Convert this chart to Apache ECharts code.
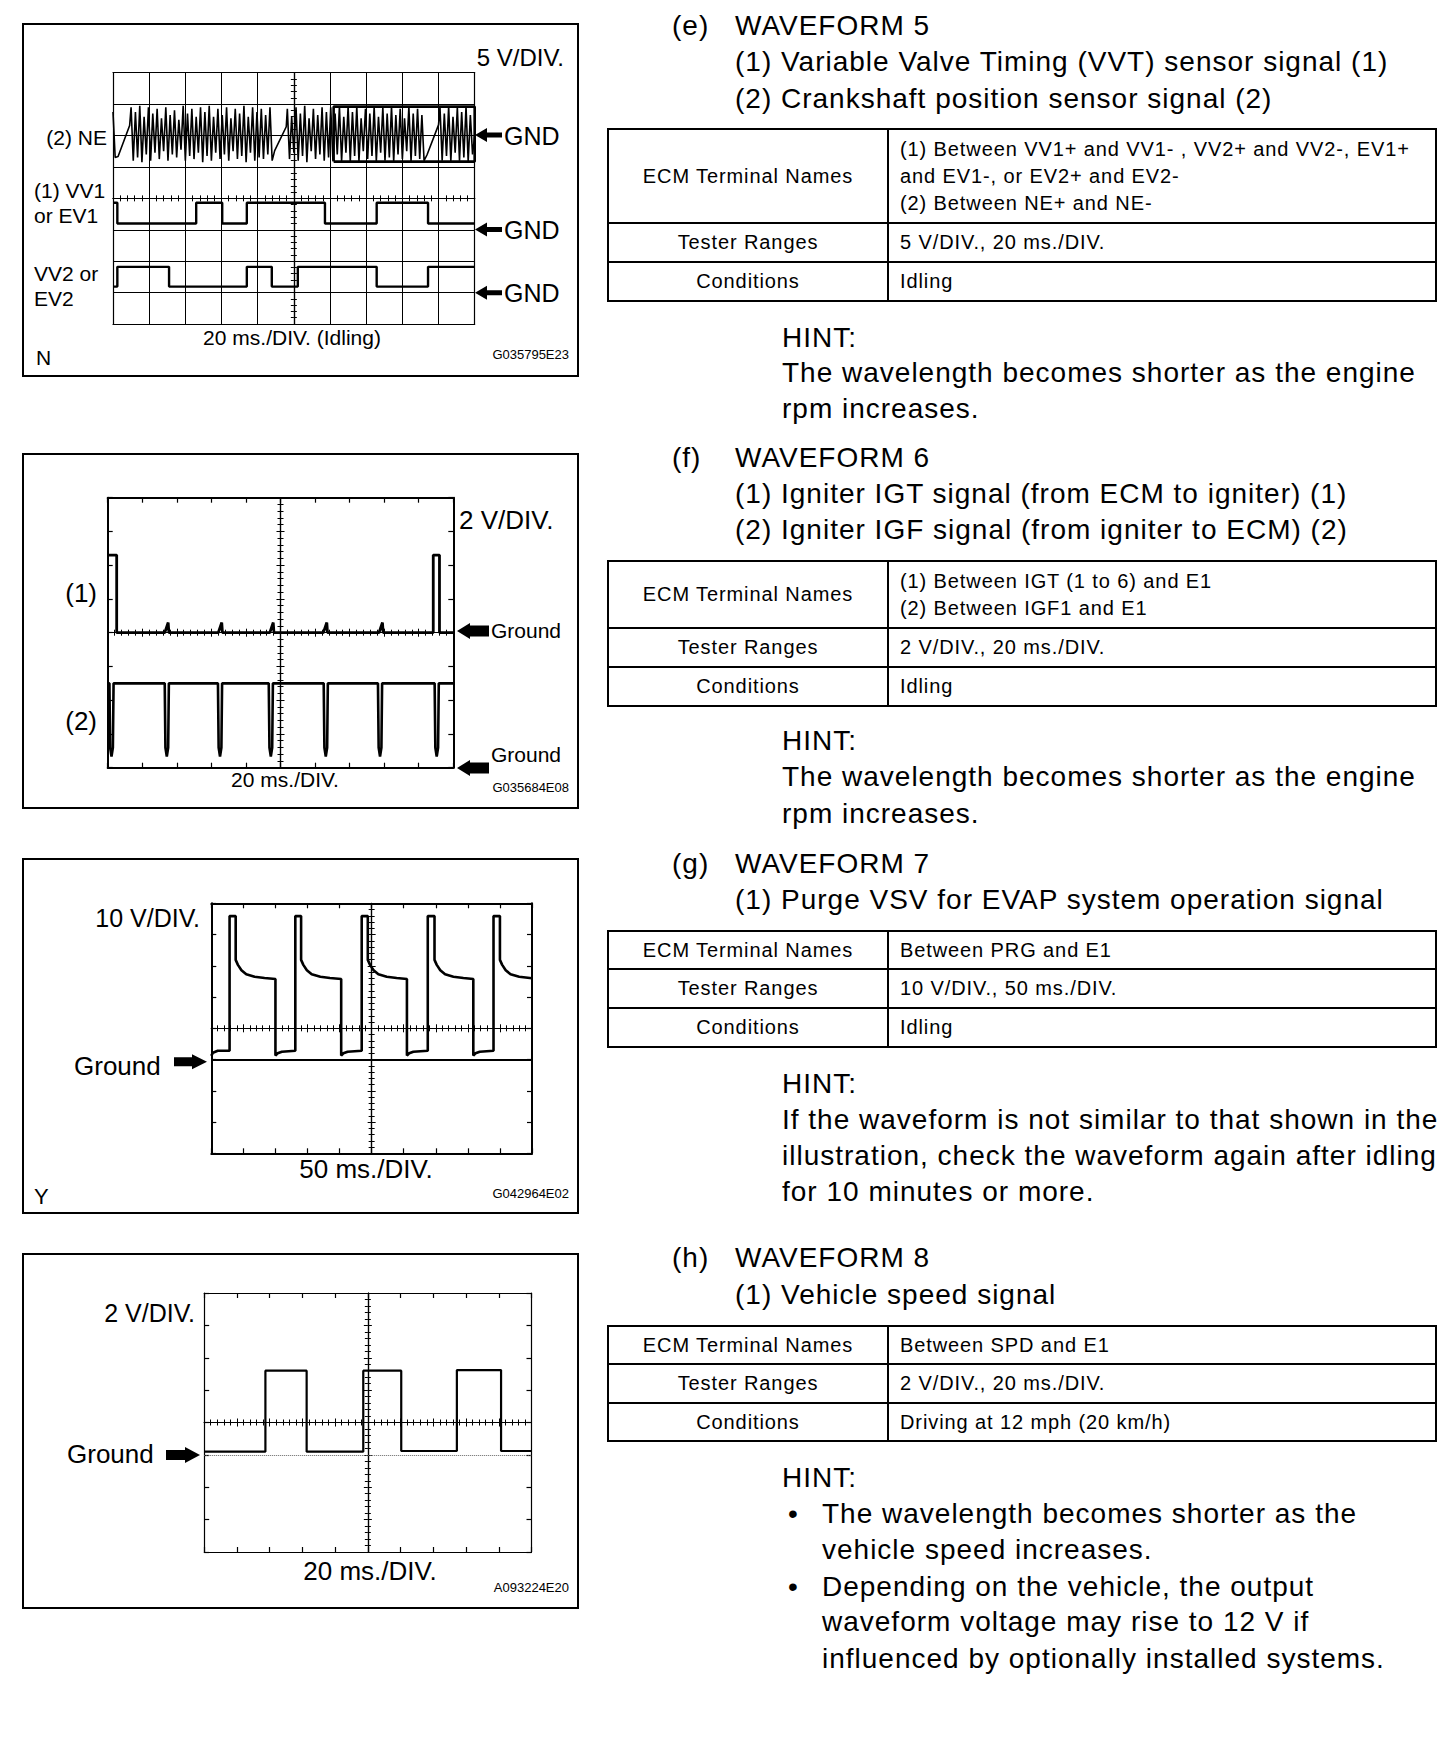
<!DOCTYPE html>
<html>
<head>
<meta charset="utf-8">
<title>Waveforms 5 - 8</title>
<script src="https://cdn.jsdelivr.net/npm/echarts@6/dist/echarts.min.js"></script>
<style>
  html, body { margin: 0; padding: 0; background: #fff; }
  #page { position: relative; width: 1456px; height: 1746px; overflow: hidden;
          font-family: 'Liberation Sans', Arial, sans-serif; color: #000; }
  #scopes { position: absolute; left: 0; top: 0; width: 1456px; height: 1746px; }
  .t { position: absolute; white-space: nowrap; font-size: 28px; letter-spacing: 1px; line-height: 36px; }
  table.spec { position: absolute; left: 607px; width: 830px; border-collapse: collapse;
               font-size: 20px; letter-spacing: 0.9px; }
  table.spec td { border: 2px solid #000; padding: 0 0 0 11px; line-height: 27px; }
  table.spec td.k { width: 278px; text-align: center; padding: 0; }
</style>
</head>
<body>
<div id="page">
  <div id="scopes"></div>

  <!-- (e) -->
  <div class="t" style="left:672px;top:8px">(e)</div>
  <div class="t" style="left:735px;top:8px">WAVEFORM 5</div>
  <div class="t" style="left:735px;top:44px">(1) Variable Valve Timing (VVT) sensor signal (1)</div>
  <div class="t" style="left:735px;top:81px">(2) Crankshaft position sensor signal (2)</div>
  <table class="spec" style="top:128px">
    <tr style="height:94px"><td class="k">ECM Terminal Names</td><td>(1) Between VV1+ and VV1- , VV2+ and VV2-, EV1+<br>and EV1-, or EV2+ and EV2-<br>(2) Between NE+ and NE-</td></tr>
    <tr style="height:39px"><td class="k">Tester Ranges</td><td>5 V/DIV., 20 ms./DIV.</td></tr>
    <tr style="height:39px"><td class="k">Conditions</td><td>Idling</td></tr>
  </table>
  <div class="t" style="left:782px;top:320px">HINT:</div>
  <div class="t" style="left:782px;top:355px">The wavelength becomes shorter as the engine</div>
  <div class="t" style="left:782px;top:391px">rpm increases.</div>

  <!-- (f) -->
  <div class="t" style="left:672px;top:440px">(f)</div>
  <div class="t" style="left:735px;top:440px">WAVEFORM 6</div>
  <div class="t" style="left:735px;top:476px">(1) Igniter IGT signal (from ECM to igniter) (1)</div>
  <div class="t" style="left:735px;top:512px">(2) Igniter IGF signal (from igniter to ECM) (2)</div>
  <table class="spec" style="top:560px">
    <tr style="height:67px"><td class="k">ECM Terminal Names</td><td>(1) Between IGT (1 to 6) and E1<br>(2) Between IGF1 and E1</td></tr>
    <tr style="height:39px"><td class="k">Tester Ranges</td><td>2 V/DIV., 20 ms./DIV.</td></tr>
    <tr style="height:39px"><td class="k">Conditions</td><td>Idling</td></tr>
  </table>
  <div class="t" style="left:782px;top:723px">HINT:</div>
  <div class="t" style="left:782px;top:759px">The wavelength becomes shorter as the engine</div>
  <div class="t" style="left:782px;top:796px">rpm increases.</div>

  <!-- (g) -->
  <div class="t" style="left:672px;top:846px">(g)</div>
  <div class="t" style="left:735px;top:846px">WAVEFORM 7</div>
  <div class="t" style="left:735px;top:882px">(1) Purge VSV for EVAP system operation signal</div>
  <table class="spec" style="top:930px">
    <tr style="height:38px"><td class="k">ECM Terminal Names</td><td>Between PRG and E1</td></tr>
    <tr style="height:39px"><td class="k">Tester Ranges</td><td>10 V/DIV., 50 ms./DIV.</td></tr>
    <tr style="height:39px"><td class="k">Conditions</td><td>Idling</td></tr>
  </table>
  <div class="t" style="left:782px;top:1066px">HINT:</div>
  <div class="t" style="left:782px;top:1102px">If the waveform is not similar to that shown in the</div>
  <div class="t" style="left:782px;top:1138px">illustration, check the waveform again after idling</div>
  <div class="t" style="left:782px;top:1174px">for 10 minutes or more.</div>

  <!-- (h) -->
  <div class="t" style="left:672px;top:1240px">(h)</div>
  <div class="t" style="left:735px;top:1240px">WAVEFORM 8</div>
  <div class="t" style="left:735px;top:1277px">(1) Vehicle speed signal</div>
  <table class="spec" style="top:1325px">
    <tr style="height:38px"><td class="k">ECM Terminal Names</td><td>Between SPD and E1</td></tr>
    <tr style="height:39px"><td class="k">Tester Ranges</td><td>2 V/DIV., 20 ms./DIV.</td></tr>
    <tr style="height:38px"><td class="k">Conditions</td><td>Driving at 12 mph (20 km/h)</td></tr>
  </table>
  <div class="t" style="left:782px;top:1460px">HINT:</div>
  <div class="t" style="left:788px;top:1496px">•</div>
  <div class="t" style="left:822px;top:1496px">The wavelength becomes shorter as the</div>
  <div class="t" style="left:822px;top:1532px">vehicle speed increases.</div>
  <div class="t" style="left:788px;top:1569px">•</div>
  <div class="t" style="left:822px;top:1569px">Depending on the vehicle, the output</div>
  <div class="t" style="left:822px;top:1604px">waveform voltage may rise to 12 V if</div>
  <div class="t" style="left:822px;top:1641px">influenced by optionally installed systems.</div>
</div>

<script>
// all traces are in scope divisions: x = 0..10 from the left edge, y = 0..8 from the bottom edge

// waveform 5: crankshaft (NE) teeth with the missing-tooth ramps
const neTrace = [
  [0.00, 6.75], [0.06, 5.30], [0.14, 5.33], [0.46, 6.32],
  [0.50, 6.90], [0.56, 5.20], [0.62, 6.75], [0.68, 5.30], [0.74, 6.95], [0.80, 5.15],
  [0.86, 6.60], [0.92, 5.40], [0.98, 6.90], [1.04, 5.20], [1.10, 6.70], [1.16, 5.45],
  [1.22, 6.85], [1.28, 5.25], [1.34, 6.55], [1.40, 5.50], [1.46, 6.90], [1.52, 5.20],
  [1.58, 6.65], [1.64, 5.40], [1.70, 6.80], [1.76, 5.30], [1.82, 6.50], [1.88, 5.55],
  [1.94, 6.95], [2.00, 5.20], [2.06, 6.70], [2.12, 5.35], [2.18, 6.85], [2.24, 5.25],
  [2.30, 6.60], [2.36, 5.45], [2.42, 6.90], [2.48, 5.15], [2.54, 6.75], [2.60, 5.35],
  [2.66, 6.95], [2.72, 5.20], [2.78, 6.60], [2.84, 5.45], [2.90, 6.85], [2.96, 5.25],
  [3.02, 6.65], [3.08, 5.40], [3.14, 6.90], [3.20, 5.20], [3.26, 6.55], [3.32, 5.50],
  [3.38, 6.85], [3.44, 5.25], [3.50, 6.70], [3.56, 5.35], [3.62, 6.95], [3.68, 5.15],
  [3.74, 6.60], [3.80, 5.45], [3.86, 6.90], [3.92, 5.20], [3.98, 6.75], [4.04, 5.30],
  [4.10, 6.85], [4.16, 5.25], [4.22, 6.65], [4.28, 5.40], [4.34, 6.90], [4.40, 5.20],
  [4.47, 5.52], [4.79, 6.28],
  [4.82, 6.85], [4.88, 5.25], [4.94, 6.60], [5.00, 5.45], [5.06, 6.90], [5.12, 5.20],
  [5.18, 6.70], [5.24, 5.35], [5.30, 6.95], [5.36, 5.15], [5.42, 6.55], [5.48, 5.50],
  [5.54, 6.85], [5.60, 5.25], [5.66, 6.65], [5.72, 5.40], [5.78, 6.90], [5.84, 5.20],
  [5.90, 6.75], [5.96, 5.30], [6.02, 6.90], [6.08, 5.20], [6.14, 6.70], [6.20, 5.40],
  [6.26, 6.92], [6.32, 5.18], [6.38, 6.60], [6.44, 5.45], [6.50, 6.92], [6.56, 5.18],
  [6.62, 6.75], [6.68, 5.35], [6.74, 6.92], [6.80, 5.18], [6.86, 6.55], [6.92, 5.50],
  [6.98, 6.85], [7.04, 5.25], [7.10, 6.70], [7.16, 5.35], [7.22, 6.92], [7.28, 5.18],
  [7.34, 6.60], [7.40, 5.45], [7.46, 6.90], [7.52, 5.20], [7.58, 6.70], [7.64, 5.30],
  [7.70, 6.92], [7.76, 5.18], [7.82, 6.65], [7.88, 5.40], [7.94, 6.85], [8.00, 5.25],
  [8.06, 6.55], [8.12, 5.50], [8.18, 6.92], [8.24, 5.18], [8.30, 6.70], [8.36, 5.35],
  [8.42, 6.85], [8.48, 5.25], [8.54, 6.65], [8.60, 5.20],
  [8.68, 5.38], [9.00, 6.34],
  [9.04, 6.90], [9.10, 5.20], [9.16, 6.70], [9.22, 5.35], [9.28, 6.92], [9.34, 5.18],
  [9.40, 6.60], [9.46, 5.45], [9.52, 6.90], [9.58, 5.20], [9.64, 6.75], [9.70, 5.30],
  [9.76, 6.92], [9.82, 5.18], [9.88, 6.65], [9.94, 5.40], [10.0, 6.00]
];
const neBox = [[6.10, 5.17], [6.10, 6.92], [10.0, 6.92], [10.0, 5.17], [6.10, 5.17]];
// VVT sensors: [time, level from that time on]
const vv1Trace = [[0, 3.86], [0.12, 3.2], [2.30, 3.86], [3.02, 3.2], [3.70, 3.86],
                  [5.86, 3.2], [7.29, 3.86], [8.71, 3.2], [10, 3.2]];
const vv2Trace = [[0, 1.19], [0.12, 1.82], [1.55, 1.19], [3.70, 1.82], [4.39, 1.19],
                  [5.11, 1.82], [7.29, 1.19], [8.71, 1.82], [10, 1.82]];

// waveform 6: IGT (1) and IGF (2)
const igtTrace = [
  [0, 6.3], [0.26, 6.3], [0.26, 4.0], [1.65, 4.0], [1.75, 4.3], [1.77, 4.0],
  [3.20, 4.0], [3.30, 4.3], [3.32, 4.0], [4.69, 4.0], [4.79, 4.3], [4.81, 4.0],
  [6.24, 4.0], [6.34, 4.3], [6.36, 4.0], [7.85, 4.0], [7.95, 4.3], [7.97, 4.0],
  [9.42, 4.0], [9.42, 6.3], [9.60, 6.3], [9.60, 4.0], [10, 4.0]
];
const igfTrace = [
  [0, 2.5], [0.05, 2.5], [0.07, 0.6], [0.11, 0.33], [0.15, 0.6], [0.17, 2.5],
  [1.65, 2.5], [1.67, 0.6], [1.71, 0.33], [1.75, 0.6], [1.77, 2.5],
  [3.19, 2.5], [3.21, 0.6], [3.25, 0.33], [3.29, 0.6], [3.31, 2.5],
  [4.66, 2.5], [4.68, 0.6], [4.72, 0.33], [4.76, 0.6], [4.78, 2.5],
  [6.25, 2.5], [6.27, 0.6], [6.31, 0.33], [6.35, 0.6], [6.37, 2.5],
  [7.82, 2.5], [7.84, 0.6], [7.88, 0.33], [7.92, 0.6], [7.94, 2.5],
  [9.46, 2.5], [9.48, 0.6], [9.52, 0.33], [9.56, 0.6], [9.58, 2.5],
  [10, 2.5]
];

// waveform 7: purge VSV
const prgTrace = [
  [0.00, 3.12], [0.05, 3.22], [0.20, 3.28], [0.57, 3.28], [0.57, 7.59], [0.76, 7.59],
  [0.76, 6.19], [0.83, 6.03], [0.94, 5.86], [1.09, 5.73], [1.35, 5.65], [1.66, 5.61], [2.00, 5.58],
  [2.00, 3.13], [2.07, 3.20], [2.20, 3.25], [2.62, 3.28], [2.62, 7.59], [2.80, 7.59],
  [2.80, 6.19], [2.87, 6.03], [2.98, 5.86], [3.13, 5.73], [3.40, 5.65], [3.70, 5.61], [4.05, 5.58],
  [4.05, 3.13], [4.12, 3.20], [4.25, 3.25], [4.69, 3.28], [4.69, 7.59], [4.88, 7.59],
  [4.88, 6.19], [4.95, 6.03], [5.06, 5.86], [5.21, 5.73], [5.47, 5.65], [5.78, 5.61], [6.10, 5.58],
  [6.10, 3.13], [6.17, 3.20], [6.30, 3.25], [6.75, 3.28], [6.75, 7.59], [6.96, 7.59],
  [6.96, 6.19], [7.03, 6.03], [7.14, 5.86], [7.29, 5.73], [7.55, 5.65], [7.86, 5.61], [8.17, 5.58],
  [8.17, 3.13], [8.24, 3.20], [8.37, 3.25], [8.80, 3.28], [8.80, 7.59], [9.00, 7.59],
  [9.00, 6.19], [9.07, 6.03], [9.18, 5.86], [9.33, 5.73], [9.60, 5.65], [10.0, 5.60]
];
const prgGround = 3;

// waveform 8: vehicle speed, [time, level from that time on]
const spdTrace = [[0, 3.10], [1.87, 5.60], [3.13, 3.10], [4.86, 5.60], [6.02, 3.12],
                  [7.72, 5.62], [9.07, 3.12], [10, 3.12]];
const spdGround = 3;

// ---- layout of the four scope pictures ----
const scopeLayout = [
  { box: [23, 24, 555, 352], grid: [113, 72.7, 361.7, 251.3], gridLines: true, frameTicks: false, frameWidth: 1.2 },
  { box: [23, 454, 555, 354], grid: [107.7, 497.7, 345.6, 270], gridLines: false, frameTicks: true, frameWidth: 2 },
  { box: [23, 859, 555, 354], grid: [211.3, 903.3, 320.7, 250], gridLines: false, frameTicks: true, frameWidth: 2 },
  { box: [23, 1254, 555, 354], grid: [204.2, 1293, 327.3, 259], gridLines: false, frameTicks: true, frameWidth: 1.2 }
];

const scopeLabels = [
  ['5 V/DIV.', 564, 57, 24, 'right'],
  ['(2) NE', 107, 137, 21, 'right'],
  ['(1) VV1', 34, 190, 21, 'left'],
  ['or EV1', 34, 215, 21, 'left'],
  ['VV2 or', 34, 273, 21, 'left'],
  ['EV2', 34, 298, 21, 'left'],
  ['GND', 504, 136, 25, 'left'],
  ['GND', 504, 230, 25, 'left'],
  ['GND', 504, 293, 25, 'left'],
  ['20 ms./DIV. (Idling)', 292, 337, 21, 'center'],
  ['N', 36, 357, 21, 'left'],
  ['G035795E23', 569, 354, 13, 'right'],

  ['2 V/DIV.', 459, 520, 26, 'left'],
  ['(1)', 97, 593, 26, 'right'],
  ['(2)', 97, 721, 26, 'right'],
  ['Ground', 491, 630, 21, 'left'],
  ['Ground', 491, 754, 21, 'left'],
  ['20 ms./DIV.', 285, 779, 21, 'center'],
  ['G035684E08', 569, 787.5, 13, 'right'],

  ['10 V/DIV.', 200, 918, 25, 'right'],
  ['Ground', 74, 1066, 26, 'left'],
  ['50 ms./DIV.', 366, 1169, 26, 'center'],
  ['Y', 34, 1196, 22, 'left'],
  ['G042964E02', 569, 1193.5, 13, 'right'],

  ['2 V/DIV.', 195, 1313, 25, 'right'],
  ['Ground', 67, 1454, 26, 'left'],
  ['20 ms./DIV.', 370, 1571, 26, 'center'],
  ['A093224E20', 569, 1587.5, 13, 'right']
];

// [direction, tipX, y, headLen, headHalf, shaftLen, shaftHalf]
const scopeArrows = [
  [-1, 475, 135, 12, 7, 15, 2.5],
  [-1, 475, 229.5, 12, 7, 15, 2.5],
  [-1, 475, 292.7, 12, 7, 15, 2.5],
  [-1, 457, 631, 13, 8, 19, 5.5],
  [-1, 457, 768, 13, 8, 19, 5.5],
  [1, 207, 1061.7, 15, 7.5, 18, 4.5],
  [1, 200, 1455, 15, 8, 19, 5]
];

const FONT = '"Liberation Sans", Arial, sans-serif';
const grids = [], xAxes = [], yAxes = [];

function addScope(p) {
  const [left, top, width, height] = p.grid;
  const g = grids.length;
  grids.push({ left, top, width, height });
  grids.push({ left, top, width, height });

  const frameLine = { show: true, onZero: false, lineStyle: { color: '#000', width: p.frameWidth } };
  const frameTick = { show: p.frameTicks, inside: true, length: 5, lineStyle: { color: '#000', width: 1.2 } };
  const hidden = { show: false };
  const ax = { x: xAxes.length, y: yAxes.length };

  ['bottom', 'top'].forEach((pos, i) => xAxes.push({
    gridIndex: g, type: 'value', position: pos, min: 0, max: 10, interval: 1,
    axisLine: frameLine, axisTick: frameTick, axisLabel: hidden,
    splitLine: { show: p.gridLines && i === 0, lineStyle: { color: '#000', width: 1 } }
  }));
  ['left', 'right'].forEach((pos, i) => yAxes.push({
    gridIndex: g, type: 'value', position: pos, min: 0, max: 8, interval: 1,
    axisLine: frameLine, axisTick: frameTick, axisLabel: hidden,
    splitLine: { show: p.gridLines && i === 0, lineStyle: { color: '#000', width: 1 } }
  }));

  // centre cross with the small division ticks on both sides
  const xc = xAxes.length, yc = yAxes.length;
  const crossLine = (other) => ({ show: true, onZero: true, onZeroAxisIndex: other, lineStyle: { color: '#000', width: 1.2 } });
  const crossTick = { show: true, length: 4, lineStyle: { color: '#000', width: 1 } };
  const crossMinor = { show: true, splitNumber: 5, length: 3, lineStyle: { color: '#000', width: 1 } };
  ['bottom', 'top'].forEach(pos => xAxes.push({
    gridIndex: g + 1, type: 'value', position: pos, min: -5, max: 5, interval: 1,
    axisLine: crossLine(yc), axisTick: crossTick, minorTick: crossMinor,
    axisLabel: hidden, splitLine: hidden
  }));
  ['left', 'right'].forEach(pos => yAxes.push({
    gridIndex: g + 1, type: 'value', position: pos, min: -4, max: 4, interval: 1,
    axisLine: crossLine(xc), axisTick: crossTick, minorTick: crossMinor,
    axisLabel: hidden, splitLine: hidden
  }));
  return ax;
}

const ax = scopeLayout.map(addScope);

function trace(data, a, extra) {
  return Object.assign({
    type: 'line', data, xAxisIndex: a.x, yAxisIndex: a.y,
    symbol: 'none', silent: true, z: 5,
    lineStyle: { color: '#000', width: 2.4 }
  }, extra || {});
}

function groundLine(level, style) {
  return {
    silent: true, symbol: 'none', label: { show: false },
    lineStyle: style, data: [{ yAxis: level }]
  };
}

const series = [
  trace(neTrace, ax[0], { lineStyle: { color: '#000', width: 1.6 } }),
  trace(neBox, ax[0], { lineStyle: { color: '#000', width: 2.6 } }),
  trace(vv1Trace, ax[0], { step: 'end' }),
  trace(vv2Trace, ax[0], { step: 'end' }),
  trace(igtTrace, ax[1], { lineStyle: { color: '#000', width: 2.8 } }),
  trace(igfTrace, ax[1], { lineStyle: { color: '#000', width: 2.6 } }),
  trace(prgTrace, ax[2], { lineStyle: { color: '#000', width: 2.6 },
    markLine: groundLine(prgGround, { color: '#000', type: 'solid', width: 2 }) }),
  trace(spdTrace, ax[3], { step: 'end', lineStyle: { color: '#000', width: 2.2 },
    markLine: groundLine(spdGround, { color: '#666', type: 'dotted', width: 1 }) })
];

const graphic = [];
scopeLayout.forEach(p => {
  const [x, y, w, h] = p.box;
  graphic.push({ type: 'rect', silent: true, shape: { x, y, width: w, height: h },
    style: { fill: 'none', stroke: '#000', lineWidth: 2 } });
});
scopeLabels.forEach(([text, x, y, size, align]) => {
  graphic.push({ type: 'text', silent: true, x, y,
    style: { text, fill: '#000', font: size + 'px ' + FONT, align, verticalAlign: 'middle' } });
});
scopeArrows.forEach(([dir, tipX, y, headLen, headHalf, shaftLen, shaftHalf]) => {
  const baseX = tipX - dir * headLen;
  const endX = baseX - dir * shaftLen;
  graphic.push({ type: 'polygon', silent: true,
    shape: { points: [[tipX, y], [baseX, y - headHalf], [baseX, y - shaftHalf], [endX, y - shaftHalf],
                      [endX, y + shaftHalf], [baseX, y + shaftHalf], [baseX, y + headHalf]] },
    style: { fill: '#000' } });
});

const chart = echarts.init(document.getElementById('scopes'), null, { renderer: 'svg' });
chart.setOption({
  animation: false,
  backgroundColor: '#fff',
  textStyle: { fontFamily: FONT },
  grid: grids,
  xAxis: xAxes,
  yAxis: yAxes,
  series,
  graphic
});
window.addEventListener('resize', () => chart.resize());
</script>
</body>
</html>
